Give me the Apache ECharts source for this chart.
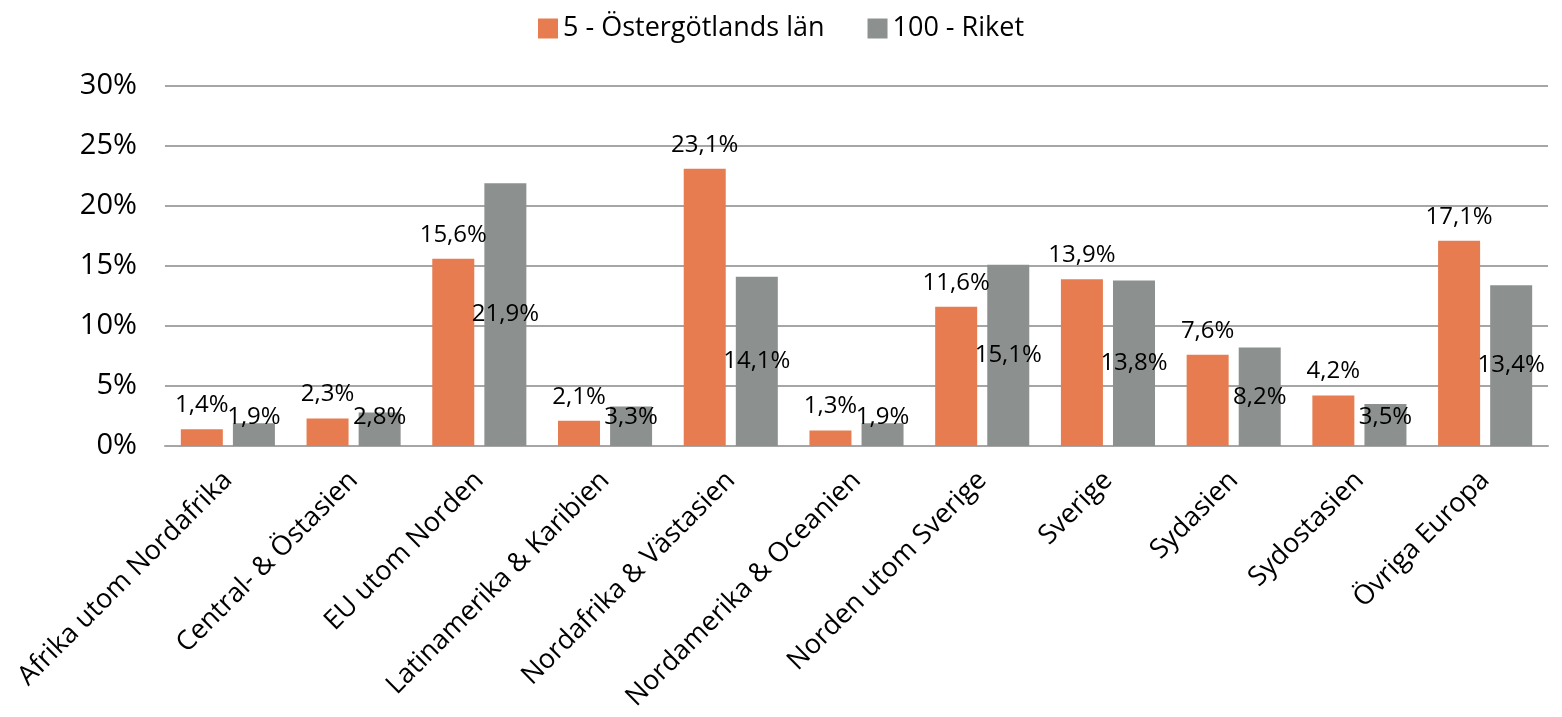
<!DOCTYPE html>
<html>
<head>
<meta charset="utf-8">
<script src="https://cdn.jsdelivr.net/npm/echarts@6/dist/echarts.min.js"></script>
<style>
  html, body { margin: 0; padding: 0; background: #fff; }
  #chart { width: 1562px; height: 717px; }
</style>
</head>
<body>
<div id="chart"></div>
<script>
var categories = ['Afrika utom Nordafrika', 'Central- & Östasien', 'EU utom Norden', 'Latinamerika & Karibien',
  'Nordafrika & Västasien', 'Nordamerika & Oceanien', 'Norden utom Sverige', 'Sverige', 'Sydasien',
  'Sydostasien', 'Övriga Europa'];
var ostergotland = [1.4, 2.3, 15.6, 2.1, 23.1, 1.3, 11.6, 13.9, 7.6, 4.2, 17.1];
var riket = [1.9, 2.8, 21.9, 3.3, 14.1, 1.9, 15.1, 13.8, 8.2, 3.5, 13.4];
var seriesNames = ['5 - Östergötlands län', '100 - Riket'];

var FONT = '"Open Sans", sans-serif';

function pct(v) {
  return v.toFixed(1).replace('.', ',') + '%';
}

// gray labels sit in the middle of the bar, small bars get them pushed up a bit
var riketData = riket.map(function (v) {
  if (v < 5.2) {
    return { value: v, label: { position: 'insideBottom', distance: 17 } };
  }
  return v;
});

var chart = echarts.init(document.getElementById('chart'));
chart.setOption({
  animation: false,
  textStyle: { fontFamily: FONT },
  legend: {
    top: 10,
    left: 'center',
    itemWidth: 20,
    itemHeight: 20,
    itemGap: 43,
    icon: 'rect',
    textStyle: { fontSize: 27, color: '#000', fontFamily: FONT }
  },
  grid: { left: 165, right: 14, top: 86, bottom: 271 },
  xAxis: {
    type: 'category',
    data: categories,
    axisLine: { lineStyle: { color: '#A6A6A6', width: 2 } },
    axisTick: { show: false },
    axisLabel: {
      rotate: 45,
      interval: 0,
      margin: 30,
      fontSize: 27,
      color: '#000',
      fontFamily: FONT
    }
  },
  yAxis: {
    type: 'value',
    min: 0,
    max: 30,
    interval: 5,
    axisLine: { show: false },
    axisTick: { show: false },
    splitLine: { lineStyle: { color: '#A6A6A6', width: 2 } },
    axisLabel: {
      margin: 28,
      fontSize: 29,
      color: '#000',
      fontFamily: FONT,
      formatter: function (v) { return v + '%'; }
    }
  },
  series: [
    {
      name: seriesNames[0],
      type: 'bar',
      data: ostergotland,
      barWidth: 42,
      barGap: '24%',
      itemStyle: { color: '#E67C4F' },
      label: {
        show: true,
        position: 'top',
        distance: 12,
        fontSize: 24,
        color: '#000',
        fontFamily: FONT,
        formatter: function (p) { return pct(p.value); }
      }
    },
    {
      name: seriesNames[1],
      type: 'bar',
      data: riketData,
      barWidth: 42,
      itemStyle: { color: '#8C908E' },
      label: {
        show: true,
        position: 'inside',
        fontSize: 24,
        color: '#000',
        fontFamily: FONT,
        formatter: function (p) { return pct(p.value); }
      }
    }
  ]
});
</script>
</body>
</html>
